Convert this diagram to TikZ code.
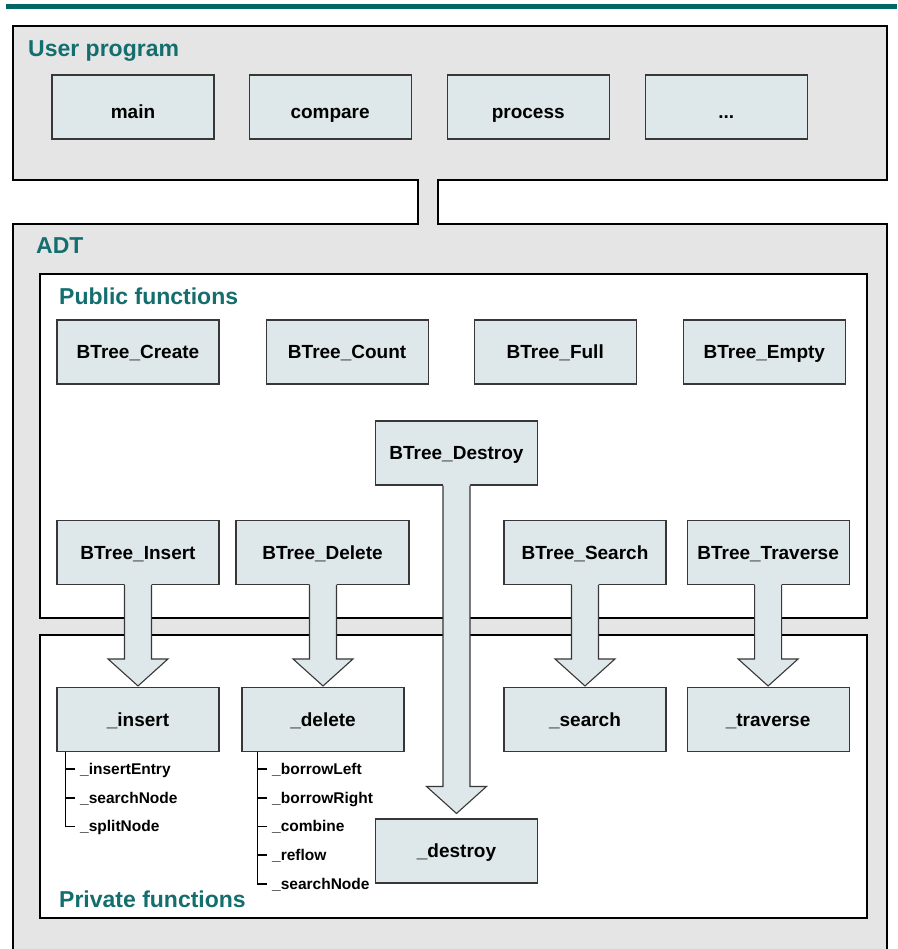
\documentclass[tikz,border=0pt]{standalone}
\usepackage{fontspec}
\setmainfont{Liberation Sans}
\usepackage{tikz}
\usetikzlibrary{calc, positioning}
\definecolor{barteal}{RGB}{0,102,102}
\definecolor{hdteal}{RGB}{20,110,110}
\definecolor{framegray}{RGB}{229,229,229}
\definecolor{boxfill}{RGB}{222,232,234}
\definecolor{boxline}{RGB}{55,55,55}
\tikzset{
  fnbox/.style={rectangle, draw=boxline, fill=boxfill, line width=1.1pt,
    minimum width=162pt, minimum height=64pt, inner sep=0pt,
    text height=13.6pt, text depth=0pt,
    font=\fontsize{19}{22}\selectfont\bfseries},
  userbox/.style={fnbox, text height=23.6pt},
  frame/.style={draw=black, line width=2pt},
  heading/.style={anchor=base west, inner sep=0pt, text=hdteal,
    font=\fontsize{23}{27}\selectfont\bfseries},
  subitem/.style={anchor=west, inner xsep=5pt, inner ysep=0pt,
    text height=11pt, text depth=0pt,
    font=\fontsize{15.5}{18}\selectfont\bfseries},
  treeline/.style={line width=1.8pt, color=black},
  arrowfill/.style={fill=boxfill},
  arrowline/.style={draw=boxline, line width=1.1pt, line join=miter}
}

\begin{document}
\begin{tikzpicture}[x=1pt, y=-1pt]
  \useasboundingbox (0,0) rectangle (897,949);
  \clip (0,0) rectangle (897,949);

  % Top rule
  \draw[line width=4.5pt, color=barteal] (6,6.5) -- (897,6.5);

  % Outer frames
  \draw[frame, fill=framegray] (13,26) rectangle (887,180);
  \draw[frame, fill=framegray] (13,224) rectangle (887,965);
  \fill[framegray] (419,177) rectangle (437,227);
  \draw[frame] (418,179) -- (418,225);
  \draw[frame] (438,179) -- (438,225);

  % Public / private panels
  \draw[frame, fill=white] (40,274) rectangle (867,618);
  \draw[frame, fill=white] (40,635) rectangle (867,918);

  % User program
  \node[heading] (userhd) at (28,57) {User program};
  \node[userbox] (main) at (133,107) {main};
  \node[userbox, right=34pt of main] (compare) {compare};
  \node[userbox, right=35pt of compare] (process) {process};
  \node[userbox, right=35pt of process] (more) {...};

  % ADT
  \node[heading] (adthd) at (36,254) {ADT};
  \node[heading] (pubhd) at (59,305) {Public functions};
  \node[heading] (privhd) at (59,907) {Private functions};

  % Public functions
  \node[fnbox] (create) at (138,352) {BTree\_Create};
  \node[fnbox, right=46pt of create] (count) {BTree\_Count};
  \node[fnbox, right=45pt of count] (full) {BTree\_Full};
  \node[fnbox, right=46pt of full] (empty) {BTree\_Empty};
  \node[fnbox] (destroy) at (456.5,453) {BTree\_Destroy};
  \node[fnbox] (ins) at (138,552.5) {BTree\_Insert};
  \node[fnbox, minimum width=173pt] (del) at (322.5,552.5) {BTree\_Delete};
  \node[fnbox] (srch) at (585,552.5) {BTree\_Search};
  \node[fnbox, right=20pt of srch] (trav) {BTree\_Traverse};

  % Private functions
  \node[fnbox] (pins) at (138,719.5) {\_insert};
  \node[fnbox] (pdel) at (323,719.5) {\_delete};
  \node[fnbox] (psrch) at (585,719.5) {\_search};
  \node[fnbox, right=20pt of psrch] (ptrav) {\_traverse};
  \node[fnbox] (pdestroy) at (456.5,851) {\_destroy};

  % Block arrows
  \foreach \src/\dst/\gap in {ins/pins/1, del/pdel/1, srch/psrch/1, trav/ptrav/1, destroy/pdestroy/5} {
    \fill[arrowfill] ($(\dst.north |- \src.south)+(-13.5,-2)$)
      -- ($(\dst.north)+(-13.5,-27-\gap)$) -- ($(\dst.north)+(-30,-27-\gap)$)
      -- ($(\dst.north)+(0,-\gap)$)
      -- ($(\dst.north)+(30,-27-\gap)$) -- ($(\dst.north)+(13.5,-27-\gap)$)
      -- ($(\dst.north |- \src.south)+(13.5,-2)$) -- cycle;
    \draw[arrowline] ($(\dst.north |- \src.south)+(-13.5,0)$)
      -- ($(\dst.north)+(-13.5,-27-\gap)$) -- ($(\dst.north)+(-30,-27-\gap)$)
      -- ($(\dst.north)+(0,-\gap)$)
      -- ($(\dst.north)+(30,-27-\gap)$) -- ($(\dst.north)+(13.5,-27-\gap)$)
      -- ($(\dst.north |- \src.south)+(13.5,0)$);
  }

  % Helpers of _insert
  \coordinate (ibar) at ([xshift=9pt]pins.south west);
  \foreach \name/\txt [count=\i] in {ie/\_insertEntry, isn/\_searchNode, isp/\_splitNode}
    \node[subitem] (\name) at (75,{740.3+28.7*\i}) {\txt};
  \draw[treeline] (ibar) |- (isp.west);
  \foreach \name in {ie, isn}
    \draw[treeline] (\name.west) -- (\name.west -| ibar);

  % Helpers of _delete
  \coordinate (dbar) at ([xshift=16pt]pdel.south west);
  \foreach \name/\txt [count=\i] in {bl/\_borrowLeft, br/\_borrowRight, cb/\_combine, rf/\_reflow, dsn/\_searchNode}
    \node[subitem] (\name) at (267,{740.3+28.7*\i}) {\txt};
  \draw[treeline] (dbar) |- (dsn.west);
  \foreach \name in {bl, br, cb, rf}
    \draw[treeline] (\name.west) -- (\name.west -| dbar);
\end{tikzpicture}
\end{document}
